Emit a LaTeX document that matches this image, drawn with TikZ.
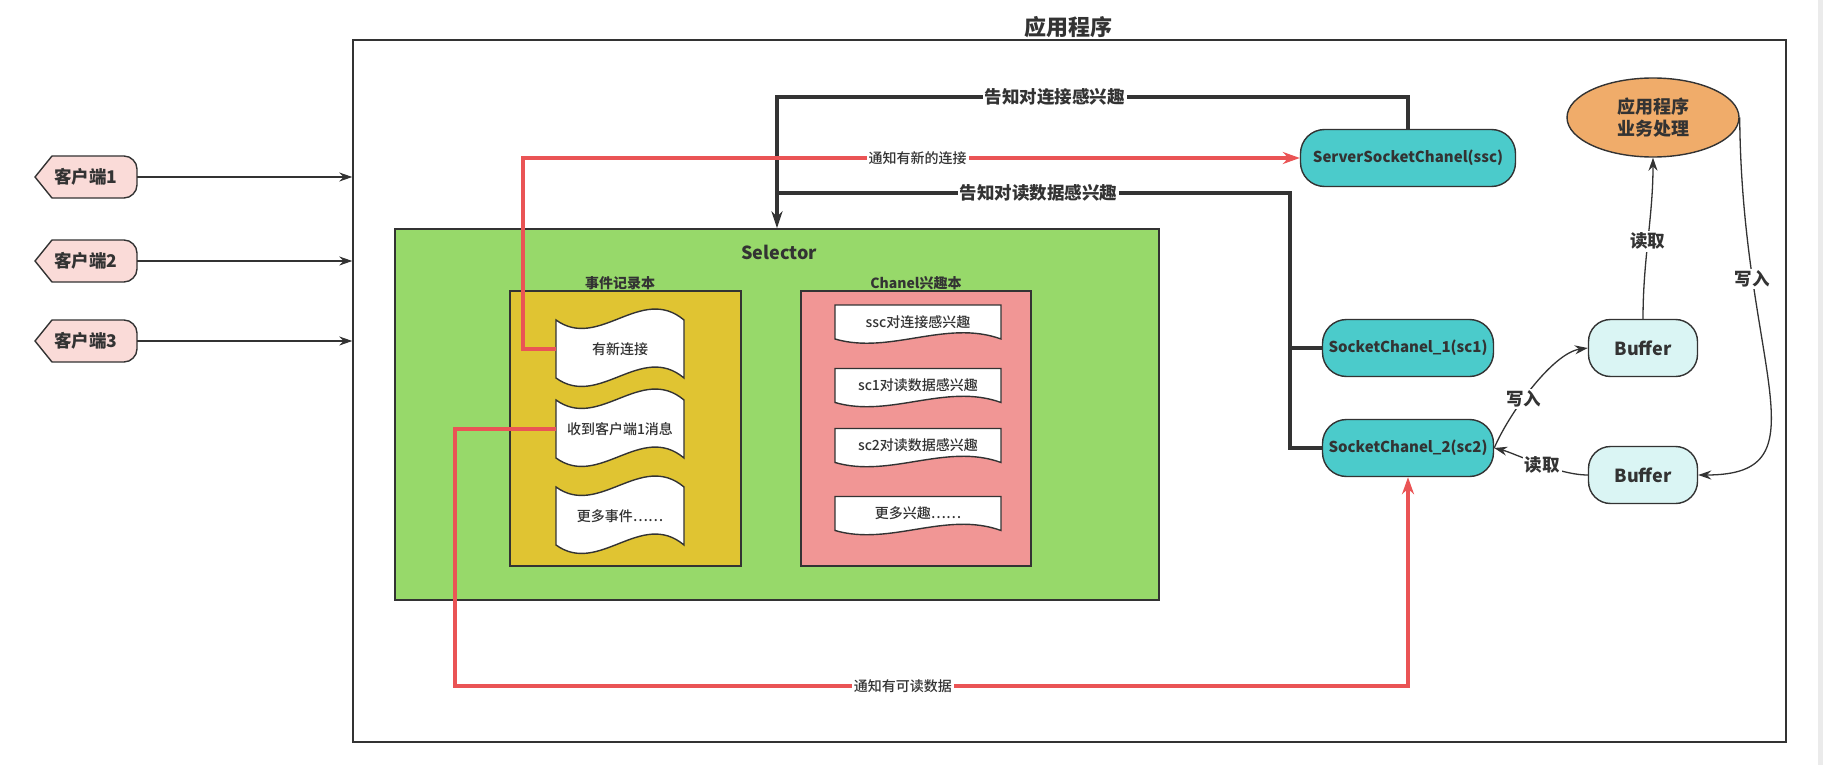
\documentclass[tikz,border=0pt]{standalone}
\usepackage{fontspec}
\setmainfont{Noto Sans CJK SC}
\newfontfamily\medfont{Noto Sans CJK SC Medium}
\usetikzlibrary{arrows.meta,shapes.geometric,positioning}

\definecolor{selgreen}{RGB}{151,217,106}
\definecolor{evyellow}{RGB}{224,196,50}
\definecolor{intpink}{RGB}{241,150,149}
\definecolor{chteal}{RGB}{75,203,203}
\definecolor{bufcyan}{RGB}{218,245,244}
\definecolor{bizorange}{RGB}{240,172,106}
\definecolor{clpink}{RGB}{250,219,216}
\definecolor{notered}{RGB}{234,84,85}
\definecolor{ink}{RGB}{51,51,51}

\begin{document}
\begin{tikzpicture}[x=1pt,y=-1pt,>=Stealth,
  every node/.style={text=ink,inner sep=0pt},
  bigtitle/.style={font=\bfseries\fontsize{22}{24}\selectfont},
  midlabel/.style={font=\bfseries\fontsize{17.5}{20}\selectfont},
  smalllabel/.style={font=\medfont\fontsize{14}{16}\selectfont},
  doctext/.style={font=\medfont\fontsize{14}{16}\selectfont},
  frame/.style={draw=ink,line width=1.4pt},
  chanel/.style={frame,fill=chteal,rounded corners=24pt,minimum height=57pt,
    font=\bfseries\fontsize{15}{17}\selectfont},
  buffer/.style={frame,fill=bufcyan,rounded corners=22pt,minimum width=109pt,
    minimum height=57pt,font=\bfseries\fontsize{18}{20}\selectfont},
  thickblack/.style={draw=ink,line width=3.5pt},
  thickred/.style={draw=notered,line width=3.5pt},
  thinarrow/.style={draw=ink,line width=1.3pt},
  onlabel/.style={fill=white,inner sep=2pt},
  clientshape/.pic={
    \draw[frame,fill=clpink] (-51,0) -- (-34,-21) -- (38,-21)
      .. controls (45,-21) and (51,-15) .. (51,-8) -- (51,8)
      .. controls (51,15) and (45,21) .. (38,21) -- (-34,21) -- cycle;},
  evtape/.pic={
    \draw[frame,fill=white] (-64,-29) .. controls (-21,2) and (21,-65) .. (64,-29)
      -- (64,29) .. controls (21,-7) and (-21,60) .. (-64,29) -- cycle;},
  intdoc/.pic={
    \draw[frame,fill=white] (-83,-17) -- (83,-17) -- (83,17)
      .. controls (28,-3) and (-28,33) .. (-83,17) -- cycle;}]
  \useasboundingbox (0,0) rectangle (1823,765);
  \fill[black!8] (1818,0) rectangle (1823,765);

  % application frame
  \node[frame,minimum width=1433pt,minimum height=702pt] (app) at (1069.5,391) {};
  \node[bigtitle] (apptitle) at (1068,27) {应用程序};

  % clients
  \foreach \i/\y in {1/177,2/261,3/341}{
    \pic at (86,\y) {clientshape};
    \node[midlabel,minimum width=102pt,minimum height=42pt] (cl\i) at (86,\y) {客户端\i};
    \draw[thinarrow,-{Stealth[length=13pt,width=9pt]}] (cl\i.east) -- (cl\i.east -| app.west);
  }

  % selector
  \node[frame,fill=selgreen,minimum width=764pt,minimum height=371pt] (sel) at (777,414.5) {};
  \node[font=\bfseries\fontsize{18}{20}\selectfont] (seltitle) at (779,252) {Selector};
  \node[frame,fill=evyellow,minimum width=231pt,minimum height=275pt] (evbook) at (625.5,428.5) {};
  \node[font=\bfseries\fontsize{14}{16}\selectfont] (evtitle) at (620,283) {事件记录本};
  \node[frame,fill=intpink,minimum width=230pt,minimum height=275pt] (intbook) at (916,428.5) {};
  \node[font=\bfseries\fontsize{14}{16}\selectfont] (inttitle) at (916,283) {Chanel兴趣本};

  \foreach \i/\y/\t in {1/349/有新连接,2/429/收到客户端1消息,3/516/更多事件……}{
    \pic at (620,\y) {evtape};
    \node[doctext,minimum width=128pt] (ev\i) at (620,\y) {\t};
  }
  \foreach \i/\y/\t in {1/322/ssc对连接感兴趣,2/385.5/sc1对读数据感兴趣,
      3/445.5/sc2对读数据感兴趣,4/513.5/更多兴趣……}{
    \pic at (918,\y) {intdoc};
    \node[doctext] (int\i) at (918,\y) {\t};
  }

  % channels, buffers
  \node[chanel,minimum width=215pt] (ssc) at (1408,158) {ServerSocketChanel(ssc)};
  \node[chanel,minimum width=171pt] (sc1) at (1408,348) {SocketChanel\_1(sc1)};
  \node[chanel,minimum width=171pt] (sc2) at (1408,448) {SocketChanel\_2(sc2)};
  \node[buffer] (buf1) at (1643,348) {Buffer};
  \node[buffer] (buf2) at (1643,475) {Buffer};
  \node[ellipse,frame,fill=bizorange,minimum width=172pt,minimum height=79pt,align=center,
    font=\bfseries\fontsize{18}{22}\selectfont] (biz) at (1653,117.5) {应用程序\\业务处理};

  % interest registration
  \coordinate (ssctop) at (777,97);
  \coordinate (rdtop) at (777,193);
  \coordinate (rdbus) at (1290,193);
  \draw[thickblack,-{Stealth[length=17pt,width=11pt]}] (ssc.north) |-
    node[pos=0.78,onlabel,midlabel]{告知对连接感兴趣} (ssctop) -- (sel.north);
  \draw[thickblack] (sc2.west) -| (rdbus) --
    node[pos=0.49,onlabel,midlabel]{告知对读数据感兴趣} (rdtop);
  \draw[thickblack] (sc1.west) -- (sc1.west -| rdbus);

  % notifications
  \coordinate (rdbot) at (1408,686);
  \draw[thickred,-{Stealth[length=17pt,width=12pt]}] (ev1.west) -- ++(-33,0) |-
    node[pos=0.754,onlabel,smalllabel]{通知有新的连接} (ssc.west);
  \draw[thickred,-{Stealth[length=17pt,width=12pt]}] (ev2.west) -- ++(-101,0) |-
    node[pos=0.735,onlabel,smalllabel]{通知有可读数据} (rdbot) -- (sc2.south);

  % buffers
  \draw[thinarrow,-{Stealth[length=13pt,width=9pt]}] (sc2.east) .. controls +(15,-35) and +(-35,5) ..
    node[pos=0.4,onlabel,midlabel]{写入} (buf1.west);
  \draw[thinarrow,-{Stealth[length=13pt,width=9pt]}] (buf2.west) .. controls +(-30,0) and +(20,5) ..
    node[pos=0.45,onlabel,midlabel]{读取} (sc2.east);
  \draw[thinarrow,-{Stealth[length=13pt,width=9pt]}] (buf1.north) .. controls +(0,-60) and +(0,60) ..
    node[pos=0.48,onlabel,midlabel]{读取} (biz.south);
  \draw[thinarrow,-{Stealth[length=13pt,width=9pt]}] (biz.east) .. controls +(2,250) and +(130,0) ..
    node[pos=0.25,onlabel,midlabel]{写入} (buf2.east);
\end{tikzpicture}
\end{document}
